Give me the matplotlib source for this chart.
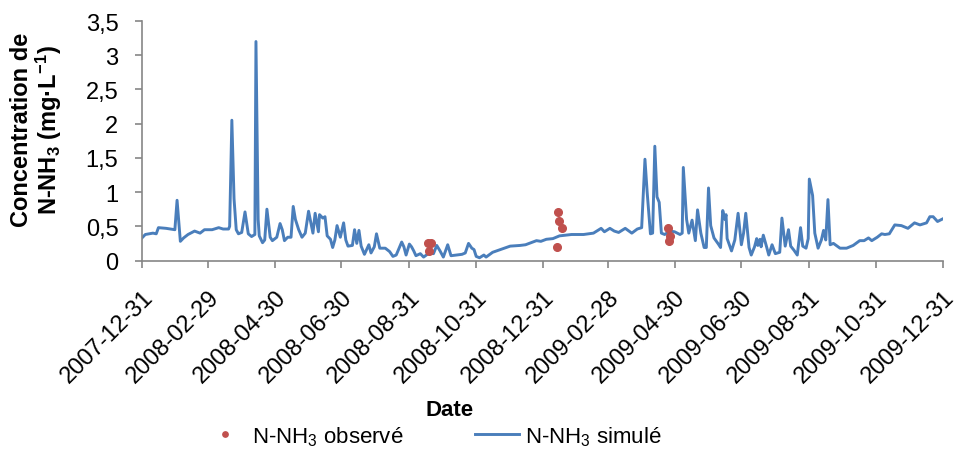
import numpy as np
import matplotlib
matplotlib.use('Agg')
import matplotlib.pyplot as plt
import matplotlib.dates as mdates
from matplotlib.ticker import FuncFormatter, MultipleLocator

plt.rcParams['font.family'] = ['Liberation Sans', 'DejaVu Sans']
plt.rcParams['mathtext.fontset'] = 'custom'
plt.rcParams['mathtext.rm'] = 'Liberation Sans'
plt.rcParams['mathtext.it'] = 'Liberation Sans:italic'
plt.rcParams['mathtext.bf'] = 'Liberation Sans:bold'

# Date de départ et jours écoulés
debut = np.datetime64('2007-12-31')

# Série simulée (jours depuis le début, mg/L)
jours_sim = [0, 3, 10, 13, 15, 22, 26, 30, 32, 35, 38, 42, 48, 53, 57, 64, 70, 74, 79, 80,
             82, 84, 86, 88, 91, 94, 97, 100, 103, 104, 106, 107, 110, 112, 114, 117, 119,
             123, 126, 128, 130, 133, 136, 138, 140, 143, 146, 149, 152, 156, 158, 161, 162,
             165, 167, 169, 172, 174, 176, 178, 181, 184, 186, 188, 192, 194, 196, 198, 200,
             203, 207, 209, 212, 214, 217, 222, 226, 229, 232, 237, 239, 241, 244, 246, 248,
             250, 254, 257, 262, 266, 269, 272, 275, 279, 282, 287, 292, 295, 298, 301, 303,
             305, 308, 312, 314, 320, 327, 336, 345, 350, 360, 364, 369, 375, 381, 392, 403,
             412, 419, 422, 427, 431, 435, 441, 447, 452, 456, 459, 461, 464, 466, 468, 470,
             472, 474, 477, 482, 486, 491, 493, 494, 497, 499, 502, 505, 507, 510, 513, 515,
             517, 519, 522, 526, 528, 530, 532, 533, 534, 538, 541, 544, 547, 549, 551, 554,
             556, 559, 561, 562, 564, 565, 567, 570, 572, 575, 578, 582, 584, 587, 590, 592,
             595, 598, 601, 603, 606, 608, 609, 612, 614, 617, 620, 622, 624, 626, 628, 631,
             637, 643, 649, 655, 659, 663, 666, 671, 675, 678, 682, 687, 693, 699, 705, 710,
             716, 719, 722, 726, 731]
nh3_sim = [0.33, 0.38, 0.40, 0.39, 0.48, 0.47, 0.46, 0.45, 0.88, 0.28, 0.33, 0.38, 0.43, 0.40,
           0.45, 0.45, 0.48, 0.46, 0.46, 0.50, 2.05, 0.90, 0.45, 0.39, 0.41, 0.71, 0.39, 0.35,
           0.38, 3.20, 0.60, 0.36, 0.26, 0.30, 0.75, 0.34, 0.29, 0.34, 0.54, 0.45, 0.29, 0.34,
           0.34, 0.79, 0.60, 0.45, 0.34, 0.40, 0.72, 0.40, 0.69, 0.42, 0.67, 0.62, 0.64, 0.36,
           0.31, 0.19, 0.30, 0.51, 0.34, 0.55, 0.30, 0.21, 0.22, 0.45, 0.25, 0.44, 0.21, 0.09,
           0.23, 0.11, 0.20, 0.39, 0.18, 0.18, 0.13, 0.06, 0.08, 0.27, 0.20, 0.08, 0.24, 0.20,
           0.14, 0.07, 0.10, 0.05, 0.11, 0.10, 0.22, 0.14, 0.05, 0.23, 0.07, 0.08, 0.09, 0.11,
           0.25, 0.18, 0.16, 0.06, 0.04, 0.08, 0.05, 0.12, 0.16, 0.21, 0.22, 0.23, 0.29, 0.28,
           0.31, 0.32, 0.36, 0.38, 0.38, 0.40, 0.47, 0.42, 0.47, 0.43, 0.41, 0.47, 0.40, 0.46,
           0.48, 1.48, 1.00, 0.39, 0.40, 1.67, 0.93, 0.85, 0.40, 0.38, 0.43, 0.42, 0.38, 0.40,
           1.36, 0.60, 0.40, 0.59, 0.29, 0.74, 0.40, 0.19, 0.19, 1.06, 0.51, 0.33, 0.24, 0.19,
           0.73, 0.60, 0.67, 0.32, 0.14, 0.30, 0.69, 0.23, 0.40, 0.69, 0.19, 0.08, 0.20, 0.32,
           0.22, 0.31, 0.20, 0.37, 0.20, 0.08, 0.23, 0.10, 0.12, 0.62, 0.21, 0.45, 0.21, 0.15,
           0.08, 0.48, 0.21, 0.18, 0.32, 1.19, 0.95, 0.40, 0.18, 0.30, 0.44, 0.30, 0.89, 0.23,
           0.25, 0.18, 0.18, 0.22, 0.29, 0.29, 0.33, 0.29, 0.34, 0.39, 0.38, 0.39, 0.52, 0.51,
           0.47, 0.55, 0.52, 0.55, 0.64, 0.64, 0.57, 0.61]

# Observations
jours_obs = [261, 262, 264, 379, 380, 381, 383, 480, 481, 482]
nh3_obs = [0.25, 0.14, 0.26, 0.20, 0.71, 0.57, 0.47, 0.48, 0.28, 0.36]

# Graduations de l'axe des dates
dates_ticks = ['2007-12-31', '2008-02-29', '2008-04-30', '2008-06-30', '2008-08-31',
               '2008-10-31', '2008-12-31', '2009-02-28', '2009-04-30', '2009-06-30',
               '2009-08-31', '2009-10-31', '2009-12-31']

t_sim = debut + np.array(jours_sim).astype('timedelta64[D]')
t_obs = debut + np.array(jours_obs).astype('timedelta64[D]')
t_ticks = np.array(dates_ticks, dtype='datetime64[D]')

bleu = '#4A7EBB'
rouge = '#C0504D'
gris = '#868686'

fig = plt.figure(figsize=(9.74, 4.52), dpi=100)
ax = fig.add_axes([142 / 974, 1 - 261.5 / 452, (943 - 142) / 974, (261.5 - 22) / 452])

ax.plot(t_obs, nh3_obs, 'o', color=rouge, markersize=5.5, label='N-NH$_3$ observé', zorder=3)
ax.plot(t_sim, nh3_sim, '-', color=bleu, linewidth=2.1, label='N-NH$_3$ simulé', zorder=2)

ax.set_xlim(t_ticks[0], t_ticks[-1])
ax.set_ylim(0, 3.5)
ax.set_xticks(t_ticks)
ax.xaxis.set_major_formatter(mdates.DateFormatter('%Y-%m-%d'))
ax.yaxis.set_major_locator(MultipleLocator(0.5))
ax.yaxis.set_major_formatter(FuncFormatter(lambda v, p: f'{v:g}'.replace('.', ',')))

ax.tick_params(axis='both', labelsize=17, color=gris, length=5, width=1.2, direction='out')
ax.tick_params(axis='x', pad=13)
ax.tick_params(axis='y', pad=12)
for lab in ax.get_xticklabels():
    lab.set_rotation(45)
    lab.set_ha('right')
    lab.set_rotation_mode('anchor')

for s in ['top', 'right']:
    ax.spines[s].set_visible(False)
for s in ['left', 'bottom']:
    ax.spines[s].set_color(gris)
    ax.spines[s].set_linewidth(1.2)

fig.text(450 / 974, 1 - 411 / 452, 'Date', fontsize=16, fontweight='bold', ha='center', va='center')
fig.text(37 / 974, 1 - 130 / 452,
         'Concentration de\nN-NH$_\\mathbf{3}$ (mg·L$^{\\mathbf{-1}}$)',
         fontsize=17, fontweight='bold', rotation=90, ha='center', va='center',
         multialignment='center', linespacing=1.0)

fig.legend(loc='center', bbox_to_anchor=(432 / 974, 1 - 437 / 452), ncol=2, frameon=False,
           fontsize=16, handlelength=2.0, columnspacing=3.2, handletextpad=0.25,
           markerscale=0.7, borderpad=0)

fig.savefig('out.png', dpi=100)
